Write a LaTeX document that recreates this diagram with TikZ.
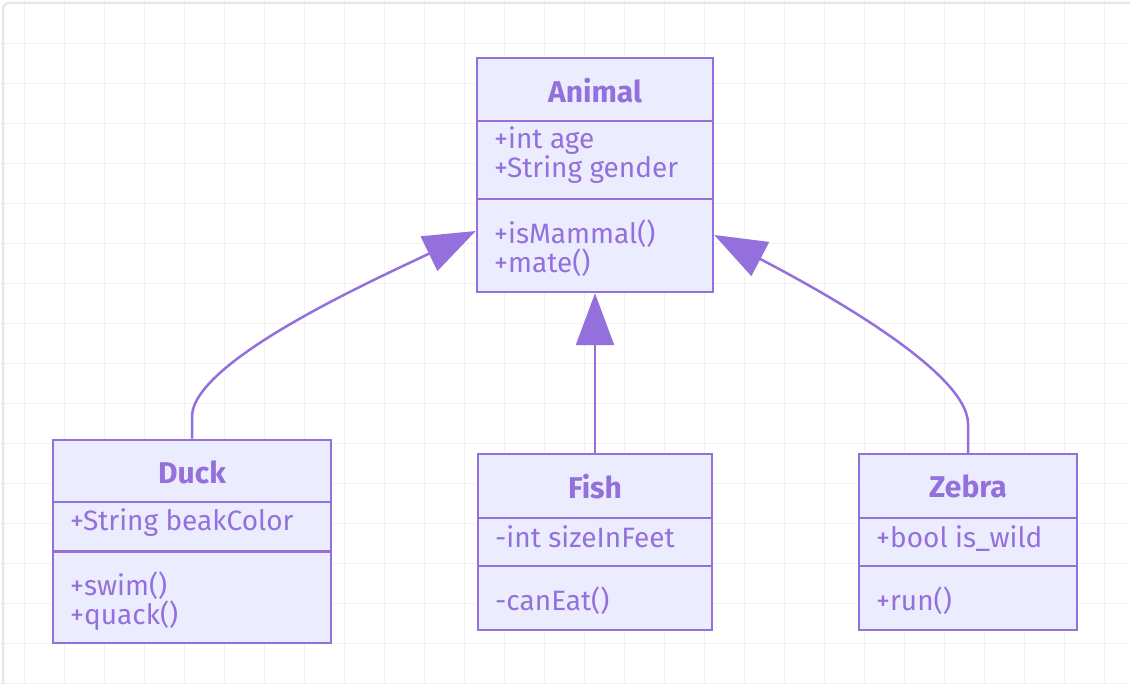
\documentclass[tikz,border=0pt]{standalone}
\usepackage{fontspec}
\setmainfont{Fira Sans}
\usetikzlibrary{arrows.meta}
\definecolor{umlline}{HTML}{9370DB}
\definecolor{umlfill}{HTML}{ECECFF}
\definecolor{gridgray}{HTML}{F2F2F2}
\definecolor{framegray}{HTML}{E8E8E8}

\begin{document}
\begin{tikzpicture}[x=1pt, y=-1pt]
        % boxes, members and inheritance arrows
        \tikzstyle{classbox}=[draw=umlline, fill=umlfill, line width=2.5pt, inner sep=0pt]
        \tikzstyle{sepline}=[draw=umlline, line width=2.5pt]
        \tikzstyle{member}=[anchor=base west, inner sep=0pt, text=umlline, font=\fontsize{28}{32}\selectfont]
        \tikzstyle{classname}=[anchor=base, inner sep=0pt, text=umlline, font=\fontsize{30}{34}\selectfont\bfseries]
        \tikzstyle{inherits}=[draw=umlline, line width=2.5pt, -{Triangle[length=52pt, width=38pt]}]

        \useasboundingbox (0,0) rectangle (1130,684);
        \clip (0,0) rectangle (1130,684);

        % background grid
        \foreach \gx in {0,...,27}
                \draw[gridgray, line width=1pt] (24.3+40*\gx,0) -- (24.3+40*\gx,684);
        \foreach \gy in {0,...,16}
                \draw[gridgray, line width=1pt] (0,43.3+40*\gy) -- (1130,43.3+40*\gy);
        \draw[framegray, line width=2.5pt, rounded corners=6pt] (3,3) rectangle (1160,720);

        % Animal
        \node[classbox, minimum width=236pt, minimum height=234pt] (animal) at (595,175) {};
        \draw[sepline] (animal.west |- 0,121) -- (animal.east |- 0,121);
        \draw[sepline] (animal.west |- 0,199) -- (animal.east |- 0,199);
        \node[classname] (animalname) at (595,102.5) {Animal};
        \node[member] (age) at (494,149) {+int age};
        \node[member] (gender) at (494,178) {+String gender};
        \node[member] (ismammal) at (494,244) {+isMammal()};
        \node[member] (mate) at (494,273) {+mate()};

        % Duck
        \node[classbox, minimum width=278pt, minimum height=203pt] (duck) at (192,541.5) {};
        \draw[sepline] (duck.west |- 0,502) -- (duck.east |- 0,502);
        \draw[sepline] (duck.west |- 0,551.5) -- (duck.east |- 0,551.5);
        \node[classname] (duckname) at (192,483) {Duck};
        \node[member] (beak) at (70,530) {+String beakColor};
        \node[member] (swim) at (70,595) {+swim()};
        \node[member] (quack) at (70,624) {+quack()};

        % Fish
        \node[classbox, minimum width=234pt, minimum height=176pt] (fish) at (595,542) {};
        \draw[sepline] (fish.west |- 0,518) -- (fish.east |- 0,518);
        \draw[sepline] (fish.west |- 0,566) -- (fish.east |- 0,566);
        \node[classname] (fishname) at (595,498) {Fish};
        \node[member] (size) at (495,547) {-int sizeInFeet};
        \node[member] (caneat) at (495,610) {-canEat()};

        % Zebra
        \node[classbox, minimum width=218pt, minimum height=176pt] (zebra) at (968,542) {};
        \draw[sepline] (zebra.west |- 0,518) -- (zebra.east |- 0,518);
        \draw[sepline] (zebra.west |- 0,566) -- (zebra.east |- 0,566);
        \node[classname] (zebraname) at (968,497) {Zebra};
        \node[member] (wild) at (876,547) {+bool is\_wild};
        \node[member] (run) at (876,610) {+run()};

        % inheritance
        \draw[inherits] (fish.north) -- (animal.south);
        \draw[inherits] (duck.north) -- ++(0,-22) .. controls (192,360) and (385,275) ..
                ([yshift=-56pt]animal.west);
        \draw[inherits] (zebra.north) -- ++(0,-29) .. controls (968,370) and (810,285) ..
                ([yshift=-60pt]animal.east);
\end{tikzpicture}
\end{document}
